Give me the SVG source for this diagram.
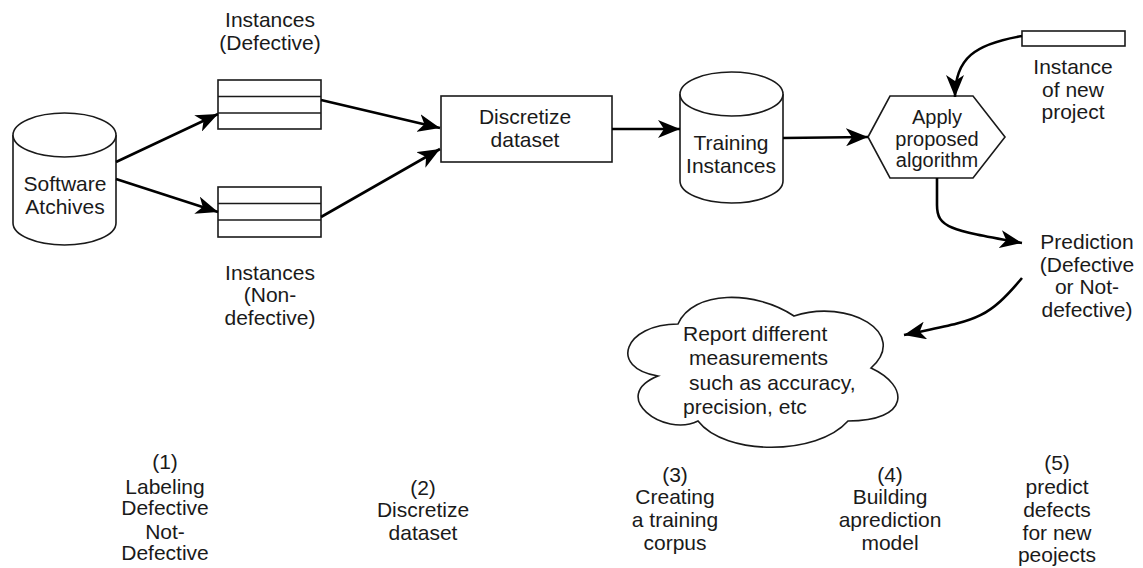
<svg xmlns="http://www.w3.org/2000/svg" width="1143" height="568" viewBox="0 0 1143 568">
<style>
text{font-family:"Liberation Sans",Arial,sans-serif;font-size:21px;fill:#1a1a1a;text-anchor:middle}
.h{font-size:20px}
.s{fill:#fff;stroke:#1a1a1a;stroke-width:1.6}
.c{fill:none;stroke:#000;stroke-width:2.6;marker-end:url(#a)}
.l{text-anchor:start}
</style>
<defs>
<marker id="a" markerUnits="userSpaceOnUse" markerWidth="24" markerHeight="18" refX="22" refY="9" orient="auto">
<path d="M0,0 L22,9 L0,18 L6,9 Z" fill="#000"/>
</marker>
</defs>
<g id="software">
<path class="s" d="M13,135 A51.5,22 0 0 1 116,135 L116,223 A51.5,22 0 0 1 13,223 Z"/>
<path class="s" fill="none" d="M13,135 A51.5,22 0 0 0 116,135"/>
<text x="65" y="191">Software</text>
<text x="65" y="214">Atchives</text>
</g>
<g id="inst-def">
<rect class="s" x="218" y="80" width="103" height="49"/>
<line class="s" x1="218" y1="96.5" x2="321" y2="96.5"/>
<line class="s" x1="218" y1="113" x2="321" y2="113"/>
<text x="270" y="27">Instances</text>
<text x="270" y="50">(Defective)</text>
</g>
<g id="inst-nondef">
<rect class="s" x="218" y="187" width="103" height="50"/>
<line class="s" x1="218" y1="203.5" x2="321" y2="203.5"/>
<line class="s" x1="218" y1="220" x2="321" y2="220"/>
<text x="270" y="280">Instances</text>
<text x="270" y="302">(Non-</text>
<text x="270" y="325">defective)</text>
</g>
<g id="discretize">
<rect class="s" x="441" y="96" width="171" height="66"/>
<text x="525" y="124">Discretize</text>
<text x="525" y="147">dataset</text>
</g>
<g id="training">
<path class="s" d="M680,94 A51.5,22 0 0 1 783,94 L783,181 A51.5,22 0 0 1 680,181 Z"/>
<path class="s" fill="none" d="M680,94 A51.5,22 0 0 0 783,94"/>
<text x="731" y="150">Training</text>
<text x="731" y="173">Instances</text>
</g>
<g id="apply">
<polygon class="s" points="868,137 890,96 973,96 1005,137 973,178 890,178"/>
<text class="h" x="937" y="124">Apply</text>
<text class="h" x="937" y="146">proposed</text>
<text class="h" x="937" y="167">algorithm</text>
</g>
<g id="new-instance">
<rect class="s" x="1022" y="31" width="103" height="15"/>
<text x="1073" y="74">Instance</text>
<text x="1073" y="97">of new</text>
<text x="1073" y="119">project</text>
</g>
<g id="prediction">
<text x="1087" y="249">Prediction</text>
<text x="1087" y="272">(Defective</text>
<text x="1087" y="294">or Not-</text>
<text x="1087" y="317">defective)</text>
</g>
<g id="report">
<path class="s" d="M678,324 C624,324 608,368 658,376 C608,396 664,438 698,421 C725,456 817,456 848,421 C910,421 910,386 871,368 C910,333 848,298 794,316 C755,290 693,290 678,324 Z"/>
<text class="l" x="683" y="341">Report different</text>
<text class="l" x="689" y="365">measurements</text>
<text class="l" x="689" y="390">such as accuracy,</text>
<text class="l" x="683" y="414">precision, etc</text>
</g>
<g id="steps">
<text x="165" y="469">(1)</text>
<text x="165" y="494">Labeling</text>
<text x="165" y="515">Defective</text>
<text x="165" y="539">Not-</text>
<text x="165" y="560">Defective</text>
<text x="423" y="495">(2)</text>
<text x="423" y="517">Discretize</text>
<text x="423" y="540">dataset</text>
<text x="675" y="482">(3)</text>
<text x="675" y="504">Creating</text>
<text x="675" y="527">a training</text>
<text x="675" y="550">corpus</text>
<text x="890" y="482">(4)</text>
<text x="890" y="504">Building</text>
<text x="890" y="527">aprediction</text>
<text x="890" y="550">model</text>
<text x="1057" y="470">(5)</text>
<text x="1057" y="494">predict</text>
<text x="1057" y="517">defects</text>
<text x="1057" y="540">for new</text>
<text x="1057" y="562">peojects</text>
</g>
<g id="connectors">
<path class="c" d="M116,162 L218,114"/>
<path class="c" d="M116,179 L218,212"/>
<path class="c" d="M321,100 L440,128"/>
<path class="c" d="M321,217 L440,149"/>
<path class="c" d="M612,129 L680,129"/>
<path class="c" d="M783,138 L868,137"/>
<path class="c" d="M1022,36 C975,44 955,58 955,97"/>
<path class="c" d="M937,178 L937,205 C937,228 950,230 1022,243"/>
<path class="c" d="M1022,278 C985,322 975,320 904,335"/>
</g>
</svg>
